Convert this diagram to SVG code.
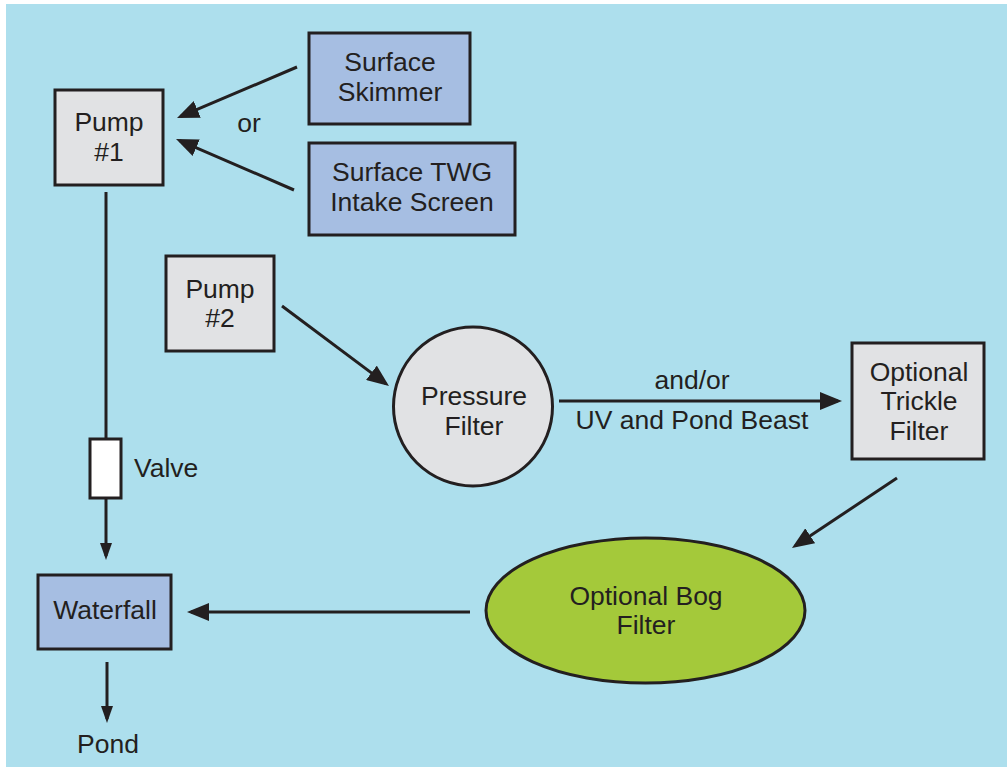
<svg xmlns="http://www.w3.org/2000/svg" width="1007" height="768" viewBox="0 0 1007 768">
<style>
.bg{fill:#ADDFED}
.box{stroke:#231F20;stroke-width:3}
.gray{fill:#E1E2E4}
.blue{fill:#A6BEE2}
.green{fill:#A4C93A}
.white{fill:#FFFFFF}
.t{font-family:"Liberation Sans",Arial,sans-serif;font-size:26.5px;fill:#231F20;text-anchor:middle}
.tl{font-family:"Liberation Sans",Arial,sans-serif;font-size:26.5px;fill:#231F20;text-anchor:start}
.ln{stroke:#231F20;stroke-width:3;fill:none}
.big{marker-end:url(#ab)}
.sm{marker-end:url(#as)}
</style>
<defs>
<marker id="ab" markerUnits="userSpaceOnUse" viewBox="0 0 22 18" refX="18" refY="9" markerWidth="22" markerHeight="18" orient="auto">
<path d="M0,0 L22,9 L0,18 Z" fill="#231F20"/>
</marker>
<marker id="as" markerUnits="userSpaceOnUse" viewBox="0 0 17 12" refX="13" refY="6" markerWidth="17" markerHeight="12" orient="auto">
<path d="M0,0 L17,6 L0,12 Z" fill="#231F20"/>
</marker>
</defs>
<rect x="0" y="0" width="1007" height="768" fill="#FFFFFF"/>
<rect class="bg" x="6" y="4" width="1001" height="763"/>

<g id="connectors">
<line class="ln big" x1="297" y1="67" x2="180.7" y2="116.4"/>
<line class="ln big" x1="294" y1="190" x2="179.7" y2="140.6"/>
<line class="ln" x1="106" y1="192" x2="106" y2="440"/>
<line class="ln sm" x1="106" y1="498" x2="106" y2="556"/>
<line class="ln sm" x1="107" y1="662" x2="107" y2="719"/>
<line class="ln big" x1="282" y1="306" x2="385.8" y2="383.6"/>
<line class="ln big" x1="559" y1="401" x2="838" y2="401"/>
<line class="ln big" x1="897" y1="478" x2="795.3" y2="545.8"/>
<line class="ln big" x1="470" y1="612" x2="191" y2="612"/>
<text class="t" x="249" y="132">or</text>
<text class="t" x="692" y="389">and/or</text>
<text class="t" x="692" y="429">UV and Pond Beast</text>
</g>

<g id="pump1">
<rect class="box gray" x="55" y="90" width="108" height="95"/>
<text class="t" x="109" y="131">Pump</text>
<text class="t" x="109" y="161">#1</text>
</g>

<g id="skimmer">
<rect class="box blue" x="309" y="33" width="161" height="91"/>
<text class="t" x="390" y="71">Surface</text>
<text class="t" x="390" y="101">Skimmer</text>
</g>

<g id="twg">
<rect class="box blue" x="309" y="143" width="206" height="92"/>
<text class="t" x="412" y="181">Surface TWG</text>
<text class="t" x="412" y="211">Intake Screen</text>
</g>

<g id="pump2">
<rect class="box gray" x="166" y="256" width="108" height="95"/>
<text class="t" x="220" y="298">Pump</text>
<text class="t" x="220" y="327">#2</text>
</g>

<g id="pressure">
<circle class="box gray" cx="473" cy="406.5" r="79.5"/>
<text class="t" x="474" y="405">Pressure</text>
<text class="t" x="474" y="435">Filter</text>
</g>

<g id="trickle">
<rect class="box gray" x="852" y="343" width="132" height="116"/>
<text class="t" x="919" y="381">Optional</text>
<text class="t" x="919" y="410">Trickle</text>
<text class="t" x="919" y="440">Filter</text>
</g>

<g id="bog">
<ellipse class="box green" cx="645.5" cy="610.5" rx="159.5" ry="72.5"/>
<text class="t" x="646" y="605">Optional Bog</text>
<text class="t" x="646" y="634">Filter</text>
</g>

<g id="valve">
<rect class="box white" x="90" y="439" width="31" height="59"/>
<text class="tl" x="134" y="477">Valve</text>
</g>

<g id="waterfall">
<rect class="box blue" x="38" y="575" width="133" height="74"/>
<text class="t" x="105" y="619">Waterfall</text>
</g>

<g id="pond">
<text class="t" x="108" y="753">Pond</text>
</g>
</svg>
